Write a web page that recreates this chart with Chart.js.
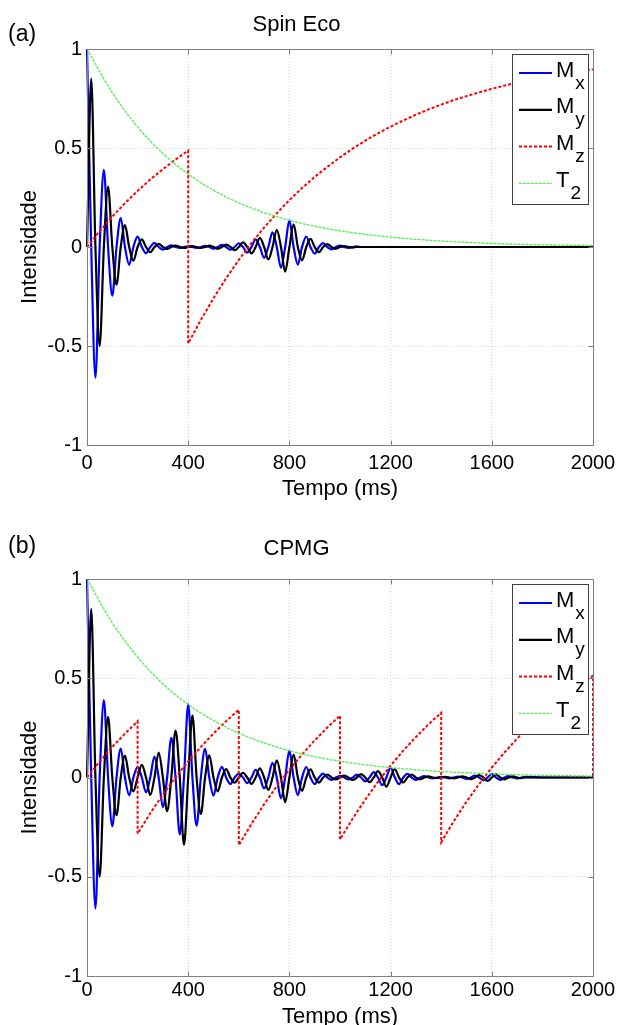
<!DOCTYPE html>
<html>
<head>
<meta charset="utf-8">
<script src="https://cdn.jsdelivr.net/npm/chart.js@4.4.1/dist/chart.umd.min.js"></script>
<style>
  html, body { margin: 0; padding: 0; background: #fff; width: 622px; height: 1025px; overflow: hidden; }
  canvas { position: absolute; left: 0; display: block; }
  #chartA { top: 0; }
  #chartB { top: 512px; }
</style>
</head>
<body>
<canvas id="chartA" width="622" height="512"></canvas>
<canvas id="chartB" width="622" height="528"></canvas>
<script>
// ---------------- data ----------------
const panelTitles = ['Spin Eco', 'CPMG'];
const panelTags = ['(a)', '(b)'];
const xAxisTitle = 'Tempo (ms)';
const yAxisTitle = 'Intensidade';
const xTickValues = [0, 400, 800, 1200, 1600, 2000];
const xTickLabels = ['0', '400', '800', '1200', '1600', '2000'];
const yTickValues = [-1, -0.5, 0, 0.5, 1];
const yTickLabels = ['-1', '-0.5', '0', '0.5', '1'];
const legendMain = ['M', 'M', 'M', 'T'];
const legendSub = ['x', 'y', 'z', '2'];

// sampling instants (ms) of the transverse magnetisation
const timeM = [0, 16.7, 33.3, 50, 66.7, 83.3, 100, 116.7, 133.3, 150, 166.7, 183.3, 200,
  216.7, 233.3, 250, 266.7, 283.3, 300, 316.7, 333.3, 350, 366.7, 383.3, 400,
  416.7, 433.3, 450, 466.7, 483.3, 500, 516.7, 533.3, 550, 566.7, 583.3, 600,
  616.7, 633.3, 650, 666.7, 683.3, 700, 716.7, 733.3, 750, 766.7, 783.3, 800,
  816.7, 833.3, 850, 866.7, 883.3, 900, 916.7, 933.3, 950, 966.7, 983.3, 1000,
  1016.7, 1033.3, 1050, 1066.7, 1083.3, 1100, 1116.7, 1133.3, 1150, 1166.7, 1183.3, 1200,
  1216.7, 1233.3, 1250, 1266.7, 1283.3, 1300, 1316.7, 1333.3, 1350, 1366.7, 1383.3, 1400,
  1416.7, 1433.3, 1450, 1466.7, 1483.3, 1500, 1516.7, 1533.3, 1550, 1566.7, 1583.3, 1600,
  1616.7, 1633.3, 1650, 1666.7, 1683.3, 1700, 1716.7, 1733.3,
  1800, 1900, 2000];

// (a) Spin Eco
const mxSpinEco = [1, 0, -0.66, 0, 0.39, 0, -0.246, 0, 0.146, 0, -0.09, 0, 0.052,
  0, -0.032, 0, 0.021, 0, -0.013, 0, 0.008, 0, -0.005, 0, 0.003,
  0, -0.004, 0, 0.006, 0, -0.008, 0, 0.011, 0, -0.014, 0, 0.019,
  0, -0.028, 0, 0.039, 0, -0.055, 0, 0.074, 0, -0.105, 0, 0.135,
  0, -0.089, 0, 0.053, 0, -0.033, 0, 0.02, 0, -0.012, 0, 0.007,
  0, -0.004, 0, 0.003, 0, 0, 0, 0, 0, 0, 0, 0,
  0, 0, 0, 0, 0, 0, 0, 0, 0, 0, 0, 0,
  0, 0, 0, 0, 0, 0, 0, 0, 0, 0, 0, 0,
  0, 0, 0, 0, 0, 0, 0, 0,
  0, 0, 0];
const mySpinEco = [0, 0.85, 0, -0.5, 0, 0.305, 0, -0.19, 0, 0.11, 0, -0.07, 0,
  0.039, 0, -0.026, 0, 0.016, 0, -0.01, 0, 0.007, 0, -0.004, 0,
  0.004, 0, -0.005, 0, 0.007, 0, -0.009, 0, 0.012, 0, -0.016, 0,
  0.024, 0, -0.032, 0, 0.046, 0, -0.063, 0, 0.087, 0, -0.125, 0,
  0.115, 0, -0.068, 0, 0.041, 0, -0.026, 0, 0.015, 0, -0.009, 0,
  0.005, 0, -0.003, 0, 0, 0, 0, 0, 0, 0, 0, 0,
  0, 0, 0, 0, 0, 0, 0, 0, 0, 0, 0, 0,
  0, 0, 0, 0, 0, 0, 0, 0, 0, 0, 0, 0,
  0, 0, 0, 0, 0, 0, 0, 0,
  0, 0, 0];
const timeMzSpinEco = [0, 50, 100, 150, 200, 250, 300, 350, 400,
  400, 450, 500, 550, 600, 650, 700, 750, 800, 850, 900, 950, 1000, 1050, 1100, 1150, 1200,
  1250, 1300, 1350, 1400, 1450, 1500, 1550, 1600, 1650, 1700, 1750, 1800, 1850, 1900, 1950, 2000];
const mzSpinEco = [0, 0.08, 0.154, 0.221, 0.283, 0.341, 0.393, 0.442, 0.487,
  -0.487, -0.368, -0.259, -0.158, -0.065, 0.02, 0.098, 0.17, 0.237, 0.298, 0.354, 0.405, 0.453, 0.497, 0.537, 0.574, 0.608,
  0.639, 0.668, 0.695, 0.719, 0.742, 0.762, 0.781, 0.799, 0.815, 0.83, 0.843, 0.856, 0.867, 0.878, 0.888, 0.897];

// (b) CPMG
const mxCPMG = [1, 0, -0.66, 0, 0.39, 0, -0.246, 0, 0.146, 0, -0.09, 0, 0.052,
  0, -0.075, 0, 0.105, 0, -0.149, 0, 0.2, 0, -0.287, 0, 0.368,
  0, -0.243, 0, 0.144, 0, -0.091, 0, 0.054, 0, -0.033, 0, 0.019,
  0, -0.028, 0, 0.039, 0, -0.055, 0, 0.074, 0, -0.105, 0, 0.135,
  0, -0.089, 0, 0.053, 0, -0.033, 0, 0.02, 0, -0.012, 0, 0.007,
  0, -0.01, 0, 0.014, 0, -0.02, 0, 0.027, 0, -0.039, 0, 0.05,
  0, -0.033, 0, 0.019, 0, -0.012, 0, 0.007, 0, -0.004, 0, 0.003,
  0, -0.004, 0, 0.005, 0, -0.007, 0, 0.01, 0, -0.014, 0, 0.018,
  0, -0.012, 0, 0.007, 0, -0.005, 0, 0.003,
  0, 0, 0];
const myCPMG = [0, 0.85, 0, -0.5, 0, 0.305, 0, -0.19, 0, 0.11, 0, -0.07, 0,
  0.064, 0, -0.088, 0, 0.126, 0, -0.17, 0, 0.236, 0, -0.34, 0,
  0.313, 0, -0.184, 0, 0.112, 0, -0.07, 0, 0.042, 0, -0.026, 0,
  0.024, 0, -0.032, 0, 0.046, 0, -0.063, 0, 0.087, 0, -0.125, 0,
  0.115, 0, -0.068, 0, 0.041, 0, -0.026, 0, 0.015, 0, -0.009, 0,
  0.009, 0, -0.012, 0, 0.017, 0, -0.023, 0, 0.032, 0, -0.046, 0,
  0.042, 0, -0.025, 0, 0.015, 0, -0.009, 0, 0.006, 0, -0.003, 0,
  0.003, 0, -0.004, 0, 0.006, 0, -0.008, 0, 0.012, 0, -0.017, 0,
  0.016, 0, -0.009, 0, 0.006, 0, -0.003, 0,
  0, 0, 0];
const timeMzCPMG = [0, 50, 100, 150, 200,
  200, 250, 300, 350, 400, 450, 500, 550, 600,
  600, 650, 700, 750, 800, 850, 900, 950, 1000,
  1000, 1050, 1100, 1150, 1200, 1250, 1300, 1350, 1400,
  1400, 1450, 1500, 1550, 1600, 1650, 1700, 1750, 1800, 1850, 1900, 1950, 2000,
  2000];
const mzCPMG = [0, 0.08, 0.154, 0.221, 0.283,
  -0.283, -0.18, -0.086, 0.001, 0.081, 0.154, 0.222, 0.284, 0.341,
  -0.341, -0.234, -0.135, -0.044, 0.039, 0.116, 0.187, 0.252, 0.312,
  -0.312, -0.207, -0.111, -0.022, 0.06, 0.135, 0.204, 0.268, 0.326,
  -0.326, -0.22, -0.122, -0.033, 0.05, 0.126, 0.196, 0.26, 0.319, 0.374, 0.424, 0.47, 0.512,
  0];

// T2 decay envelope (same in both panels)
const timeT2 = [0, 100, 200, 300, 400, 500, 600, 700, 800, 900, 1000,
  1100, 1200, 1300, 1400, 1500, 1600, 1700, 1800, 1900, 2000];
const t2Decay = [1, 0.779, 0.607, 0.472, 0.368, 0.287, 0.223, 0.174, 0.135, 0.105, 0.082,
  0.064, 0.05, 0.039, 0.03, 0.024, 0.018, 0.014, 0.011, 0.009, 0.007];

// ---------------- chart setup ----------------
const FONT = '"Liberation Sans", Arial, Helvetica, sans-serif';
Chart.defaults.font.family = FONT;
Chart.defaults.color = '#000';

function pts(xs, ys) { return xs.map((x, i) => ({ x: x, y: ys[i] })); }

function makeDatasets(mx, my, tMz, mz) {
  return [
    { label: 'Mx', data: pts(timeM, mx), borderColor: '#0000ff', borderWidth: 2.2,
      cubicInterpolationMode: 'monotone', order: 4 },
    { label: 'My', data: pts(timeM, my), borderColor: '#000000', borderWidth: 2.2,
      cubicInterpolationMode: 'monotone', order: 3 },
    { label: 'Mz', data: pts(tMz, mz), borderColor: '#ff0000', borderWidth: 2,
      borderDash: [3, 2], tension: 0, order: 2 },
    { label: 'T2', data: pts(timeT2, t2Decay), borderColor: '#55ee55', borderWidth: 1.3,
      borderDash: [3, 1], cubicInterpolationMode: 'monotone', order: 1 }
  ];
}

const decor = {
  id: 'decor',
  afterDatasetsDraw(chart, args, opts) {
    const { ctx, chartArea: a, scales } = chart;
    ctx.save();
    ctx.setLineDash([]);
    // axes box
    ctx.strokeStyle = '#808080';
    ctx.lineWidth = 1;
    const L = Math.round(a.left) + 0.5, T = Math.round(a.top) + 0.5;
    const R = Math.round(a.right) + 0.5, B = Math.round(a.bottom) + 0.5;
    ctx.strokeRect(L, T, R - L, B - T);
    // inward tick marks on all four sides
    ctx.beginPath();
    scales.x.ticks.forEach(t => {
      const px = Math.round(scales.x.getPixelForValue(t.value)) + 0.5;
      ctx.moveTo(px, B); ctx.lineTo(px, B - 5);
      ctx.moveTo(px, T); ctx.lineTo(px, T + 5);
    });
    scales.y.ticks.forEach(t => {
      const py = Math.round(scales.y.getPixelForValue(t.value)) + 0.5;
      ctx.moveTo(L, py); ctx.lineTo(L + 5, py);
      ctx.moveTo(R, py); ctx.lineTo(R - 5, py);
    });
    ctx.stroke();

    // legend box (top-right, inside axes)
    const bx = Math.round(a.right) - 81, by = Math.round(a.top) + 5, bw = 76, bh = 150;
    ctx.fillStyle = '#ffffff';
    ctx.fillRect(bx, by, bw, bh);
    ctx.strokeStyle = '#404040';
    ctx.lineWidth = 1;
    ctx.strokeRect(bx + 0.5, by + 0.5, bw, bh);
    chart.data.datasets.forEach((ds, i) => {
      const base = by + 22.5 + i * 36.8;
      ctx.beginPath();
      ctx.setLineDash(ds.borderDash || []);
      ctx.strokeStyle = ds.borderColor;
      ctx.lineWidth = ds.borderWidth;
      ctx.moveTo(bx + 7, base - 3.5);
      ctx.lineTo(bx + 40, base - 3.5);
      ctx.stroke();
      ctx.setLineDash([]);
      ctx.fillStyle = '#000';
      ctx.textBaseline = 'alphabetic';
      ctx.textAlign = 'left';
      ctx.font = '22px ' + FONT;
      ctx.fillText(legendMain[i], bx + 44, base);
      const w = ctx.measureText(legendMain[i]).width;
      ctx.font = '19px ' + FONT;
      ctx.fillText(legendSub[i], bx + 44 + w + 1, base + 12);
    });
    ctx.restore();
  },
  afterDraw(chart, args, opts) {
    const ctx = chart.ctx;
    ctx.save();
    ctx.fillStyle = '#000';
    ctx.font = '23px ' + FONT;
    ctx.textBaseline = 'middle';
    ctx.textAlign = 'left';
    ctx.fillText(opts.tag, 8, 35);
    ctx.restore();
  }
};

function makeChart(id, idx, mx, my, tMz, mz, titlePad, xAxisHeight, xTickPad, xTitlePadBottom) {
  return new Chart(document.getElementById(id), {
    type: 'line',
    data: { datasets: makeDatasets(mx, my, tMz, mz) },
    plugins: [decor],
    options: {
      responsive: false,
      animation: false,
      devicePixelRatio: 1,
      events: [],
      layout: { padding: { left: 0, right: 29, top: 0, bottom: 0 } },
      elements: { point: { radius: 0, hoverRadius: 0 }, line: { fill: false } },
      datasets: { line: { clip: 4 } },
      plugins: {
        legend: { display: false },
        tooltip: { enabled: false },
        decor: { tag: panelTags[idx] },
        title: {
          display: true,
          text: panelTitles[idx],
          color: '#000',
          font: { size: 22, weight: 'normal', family: FONT },
          padding: titlePad
        }
      },
      scales: {
        x: {
          type: 'linear',
          min: 0, max: 2000,
          afterFit: s => { s.height = xAxisHeight; },
          ticks: {
            stepSize: 400, autoSkip: false, maxRotation: 0, padding: xTickPad,
            color: '#000', font: { size: 20 },
            callback: v => { const k = xTickValues.indexOf(v); return k >= 0 ? xTickLabels[k] : ''; }
          },
          grid: { color: '#d4d4d4', lineWidth: 1, drawTicks: false },
          border: { display: false, dash: [1, 2] },
          title: { display: true, text: xAxisTitle, color: '#000', font: { size: 22 },
                   padding: { top: 0, bottom: xTitlePadBottom } }
        },
        y: {
          type: 'linear',
          min: -1, max: 1,
          afterFit: s => { s.width = 87; },
          ticks: {
            stepSize: 0.5, autoSkip: false, padding: 5,
            color: '#000', font: { size: 20 },
            callback: v => { const k = yTickValues.indexOf(v); return k >= 0 ? yTickLabels[k] : ''; }
          },
          grid: { color: '#d4d4d4', lineWidth: 1, drawTicks: false },
          border: { display: false, dash: [1, 2] },
          title: { display: true, text: yAxisTitle, color: '#000', font: { size: 22 },
                   padding: { top: 17, bottom: 0 } }
        }
      }
    }
  });
}

makeChart('chartA', 0, mxSpinEco, mySpinEco, timeMzSpinEco, mzSpinEco,
  { top: 11.8, bottom: 10.8 }, 67, 6, 10);
makeChart('chartB', 1, mxCPMG, myCPMG, timeMzCPMG, mzCPMG,
  { top: 23.3, bottom: 17.3 }, 64, 2, 9.8);
</script>
</body>
</html>
